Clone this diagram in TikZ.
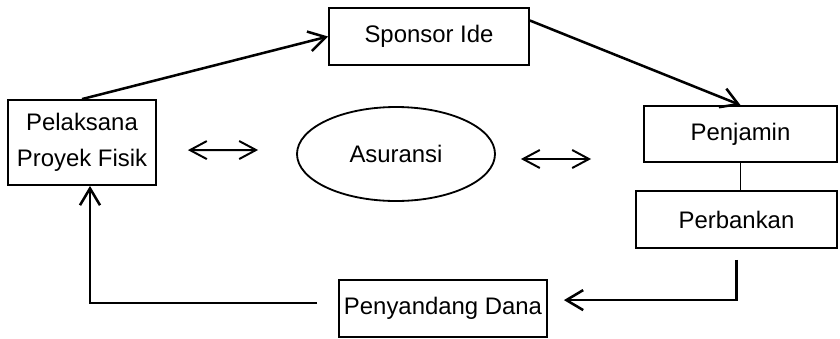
\documentclass[tikz,border=0pt]{standalone}
\usepackage{fontspec}
\setmainfont{Liberation Sans}
\usetikzlibrary{shapes.geometric}
\usetikzlibrary{arrows.meta}

\begin{document}
\begin{tikzpicture}[x=0.025cm,y=-0.025cm,
    font=\fontsize{17}{25.5}\selectfont,
    box/.style={draw, rectangle, line width=1.3pt, align=center, inner sep=0pt},
    arrline/.style={-{Straight Barb[length=0.42cm,width=0.5cm]}, line width=1.8pt},
    dblarrow/.style={{Straight Barb[length=0.42cm,width=0.45cm]}-{Straight Barb[length=0.42cm,width=0.45cm]}, line width=1.4pt}]
            \useasboundingbox (0,0) rectangle (840,338);
            % Parties around the insurance
            \node[box, minimum width=148*0.025cm, minimum height=85*0.025cm] (pelaksana) at (82,142.5) {Pelaksana\\Proyek Fisik};
            \node[box, minimum width=200*0.025cm, minimum height=57*0.025cm] (sponsor) at (429,36.5) {Sponsor Ide};
            \node[box, minimum width=193*0.025cm, minimum height=56*0.025cm] (penjamin) at (740.5,134) {Penjamin};
            \node[box, minimum width=201*0.025cm, minimum height=57*0.025cm] (perbankan) at (736.5,219.5) {Perbankan};
            \node[box, minimum width=208*0.025cm, minimum height=57*0.025cm] (penyandang) at (443,308.5) {Penyandang Dana};
            \node[draw, ellipse, line width=1.3pt, minimum width=198*0.025cm, minimum height=94*0.025cm] (asuransi) at (396,154) {Asuransi};
            
            \draw[arrline] (pelaksana.north) -- (sponsor.west);
            \draw[arrline] (sponsor.9) -- (penjamin.north);
            \draw[line width=1.3pt] (penjamin.south) -- (penjamin.south |- perbankan.north);
            \draw[arrline] ([yshift=-0.275cm]perbankan.south) |- ([xshift=0.4cm,yshift=0.21cm]penyandang.east);
            \draw[arrline] ([xshift=-0.525cm,yshift=0.14cm]penyandang.west) -| ([xshift=0.2cm]pelaksana.south);
            \draw[dblarrow] ([xshift=0.775cm,yshift=-0.19cm]pelaksana.east) -- ([xshift=-0.95cm,yshift=0.1cm]asuransi.west);
            \draw[dblarrow] ([xshift=0.625cm,yshift=-0.125cm]asuransi.east) -- ([xshift=-1.3cm,yshift=-0.625cm]penjamin.west);
        \end{tikzpicture}
\end{document}
